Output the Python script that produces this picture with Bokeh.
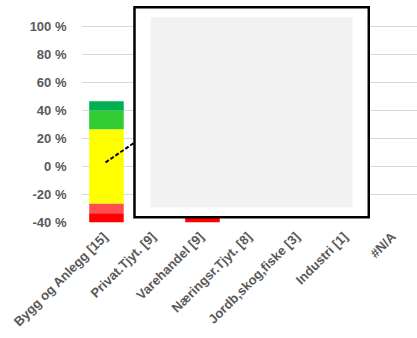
import numpy as np
from bokeh.plotting import figure
from bokeh.models import Range1d, FixedTicker
from bokeh.embed import file_html
from bokeh.resources import INLINE

# ---- data (share of companies, %) ----
categories = ["Bygg og Anlegg [15]", "Privat.Tjyt. [9]", "Varehandel [9]",
              "Næringsr.Tjyt. [8]", "Jordb,skog,fiske [3]", "Industri [1]", "#N/A"]
much_worse = [6.7, 0.0, 11.1, 0.0, 0.0, 0.0, 0.0]        # red
worse = [6.7, 11.1, 11.1, 12.5, 0.0, 0.0, 0.0]           # light red
same = [53.3, 44.4, 44.4, 37.5, 33.3, 0.0, 0.0]          # yellow (centred on 0)
better = [13.3, 22.2, 22.2, 25.0, 33.3, 100.0, 0.0]      # light green
much_better = [6.7, 11.1, 11.1, 12.5, 33.3, 0.0, 0.0]    # dark green
y_ticks = [-40, -20, 0, 20, 40, 60, 80, 100]

# ---- style ----
C_RED, C_LRED, C_YEL, C_LGRN, C_DGRN = "#FF0000", "#FF5050", "#FFFF00", "#33CC33", "#00B050"
TXT = "#595959"
FONT = "Liberation Sans"
Y_MIN, Y_MAX = -40, 118.6

n = len(categories)
xs = np.arange(n) + 0.5
half = np.array(same) / 2.0
w = np.array(worse)
mw = np.array(much_worse)
b = np.array(better)
mb = np.array(much_better)

p = figure(width=417, height=338, x_range=Range1d(0, n), y_range=Range1d(Y_MIN, Y_MAX),
           output_backend="svg", toolbar_location=None,
           min_border_left=81, min_border_right=0, min_border_top=0, min_border_bottom=116)
p.outline_line_color = None
p.background_fill_color = "white"

BW = 0.72
bx = xs + 0.02
p.vbar(x=bx, width=BW, bottom=-half, top=half, fill_color=C_YEL, line_color=None)
p.vbar(x=bx, width=BW, bottom=-half - w, top=-half, fill_color=C_LRED, line_color=None)
p.vbar(x=bx, width=BW, bottom=-half - w - mw, top=-half - w, fill_color=C_RED, line_color=None)
p.vbar(x=bx, width=BW, bottom=half, top=half + b, fill_color=C_LGRN, line_color=None)
p.vbar(x=bx, width=BW, bottom=half + b, top=half + b + mb, fill_color=C_DGRN, line_color=None)

# leader line of the callout
p.line(x=[0.5, 1.1], y=[2.9, 17.0], line_dash="4 2", line_width=2, line_color="black")

# callout box
p.quad(left=[1.104], right=[5.985], top=[113.8], bottom=[-36.2],
       fill_color="white", line_color="black", line_width=2.5, line_join="miter")
p.quad(left=[1.4375], right=[5.646], top=[106.6], bottom=[-29.1],
       fill_color="#F2F2F2", line_color=None)

# grid
p.xgrid.visible = False
p.ygrid.ticker = FixedTicker(ticks=y_ticks)
p.ygrid.grid_line_color = "#D9D9D9"
p.ygrid.grid_line_width = 1

# y axis
p.yaxis.ticker = FixedTicker(ticks=y_ticks)
p.yaxis.major_label_overrides = {t: f"{t} %" for t in y_ticks}
p.yaxis.axis_line_color = None
p.yaxis.major_tick_line_color = None
p.yaxis.minor_tick_line_color = None
p.yaxis.major_tick_out = 0
p.yaxis.major_tick_in = 0
p.yaxis.major_label_standoff = 15
p.yaxis.major_label_text_font = FONT
p.yaxis.major_label_text_font_style = "bold"
p.yaxis.major_label_text_font_size = "13px"
p.yaxis.major_label_text_color = TXT

# x axis
p.xaxis.ticker = FixedTicker(ticks=list(xs))
p.xaxis.major_label_overrides = {float(x): c for x, c in zip(xs, categories)}
p.xaxis.major_label_orientation = np.pi / 4
p.xaxis.axis_line_color = None
p.xaxis.major_tick_line_color = None
p.xaxis.minor_tick_line_color = None
p.xaxis.major_tick_out = 0
p.xaxis.major_tick_in = 0
p.xaxis.major_label_standoff = 12
p.xaxis.major_label_text_font = FONT
p.xaxis.major_label_text_font_style = "bold"
p.xaxis.major_label_text_font_size = "13px"
p.xaxis.major_label_text_color = TXT

open("out.html", "w").write(file_html(p, INLINE))
